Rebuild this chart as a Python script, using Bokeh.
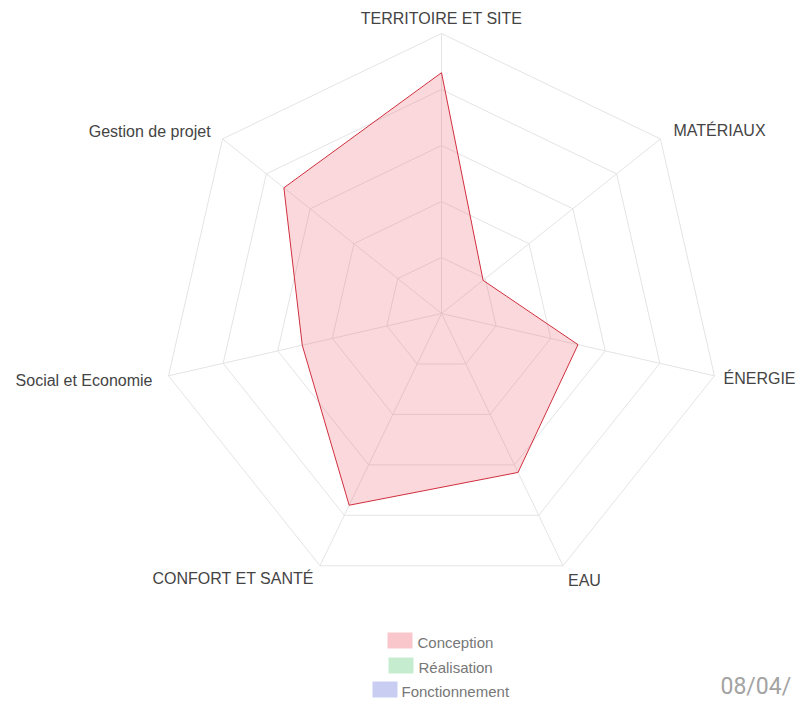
import numpy as np
from bokeh.plotting import figure
from bokeh.models import Range1d, ColumnDataSource
from bokeh.core.properties import value
from bokeh.embed import file_html
from bokeh.resources import INLINE

# ---- data ----
categories = ["TERRITOIRE ET SITE", "MATÉRIAUX", "ÉNERGIE", "EAU",
              "CONFORT ET SANTÉ", "Social et Economie", "Gestion de projet"]
conception = [4.3, 0.95, 2.5, 3.15, 3.8, 2.55, 3.6]
ring_levels = [1, 2, 3, 4, 5]
legend_labels = ["Conception", "Réalisation", "Fonctionnement"]
legend_colors = ["#f8c6cb", "#c6ecd0", "#c9cdf2"]
date_label = "08/04/"

# ---- layout ----
W, H = 797, 702
CX, CY = 441, 313      # canvas pixel of radar centre
S = 56.0               # pixels per unit

def dx(px):            # canvas px -> data x
    return (px - CX) / S

def dy(py):            # canvas py -> data y
    return (CY - py) / S

p = figure(width=W, height=H, output_backend="svg", toolbar_location=None,
           x_range=Range1d(dx(0), dx(W)), y_range=Range1d(dy(H), dy(0)),
           x_axis_type=None, y_axis_type=None, min_border=0)
p.grid.visible = False
p.outline_line_color = None
p.background_fill_color = "white"

n = len(categories)
theta = np.pi / 2 - 2 * np.pi * np.arange(n) / n
rmax = ring_levels[-1]

# grid rings
ring_xs = [list(np.append(r * np.cos(theta), r * np.cos(theta[0]))) for r in ring_levels]
ring_ys = [list(np.append(r * np.sin(theta), r * np.sin(theta[0]))) for r in ring_levels]
p.multi_line(ring_xs, ring_ys, line_color="#e4e4e4", line_width=1)

# spokes
p.segment(x0=[0] * n, y0=[0] * n, x1=list(rmax * np.cos(theta)), y1=list(rmax * np.sin(theta)),
          line_color="#e4e4e4", line_width=1)

# data polygon
vals = np.array(conception)
p.patch(list(vals * np.cos(theta)), list(vals * np.sin(theta)),
        fill_color="#f06470", fill_alpha=0.25, line_color="#d0303f", line_width=1)

# axis labels
aligns = ["center", "left", "left", "left", "right", "right", "right"]
xoffs = [0, 13, 9, 5, -6, -16, -12]
yoffs = [-15, -8, 3, 15, 13, 5, -7]
lab_src = ColumnDataSource(dict(x=list(rmax * np.cos(theta)), y=list(rmax * np.sin(theta)),
                                t=categories, a=aligns, xo=xoffs, yo=yoffs))
p.text(x="x", y="y", text="t", source=lab_src, text_align="a", text_baseline="middle",
       x_offset="xo", y_offset="yo", text_font=value("Liberation Sans"),
       text_font_size="16px", text_color="#444444")

# legend (manual, centred rows)
sw_left = [387, 388, 372]
row_cy = [640, 665, 689]
txt_left = [417, 418, 401]
p.quad(left=[dx(v) for v in sw_left], right=[dx(v + 25) for v in sw_left],
       top=[dy(c - 8) for c in row_cy], bottom=[dy(c + 8) for c in row_cy],
       fill_color=legend_colors, line_color=None)
p.text(x=[dx(v) for v in txt_left], y=[dy(c + 2) for c in row_cy], text=legend_labels,
       text_align="left", text_baseline="middle", text_font=value("Liberation Sans"),
       text_font_size="15px", text_color="#777777")

# date stamp
p.text(x=[dx(720)], y=[dy(686)], text=[date_label], text_align="left", text_baseline="middle",
       text_font=value("Roboto"), text_font_size="23px", text_color="#a3a3a3")

open("out.html", "w").write(file_html(p, INLINE))
